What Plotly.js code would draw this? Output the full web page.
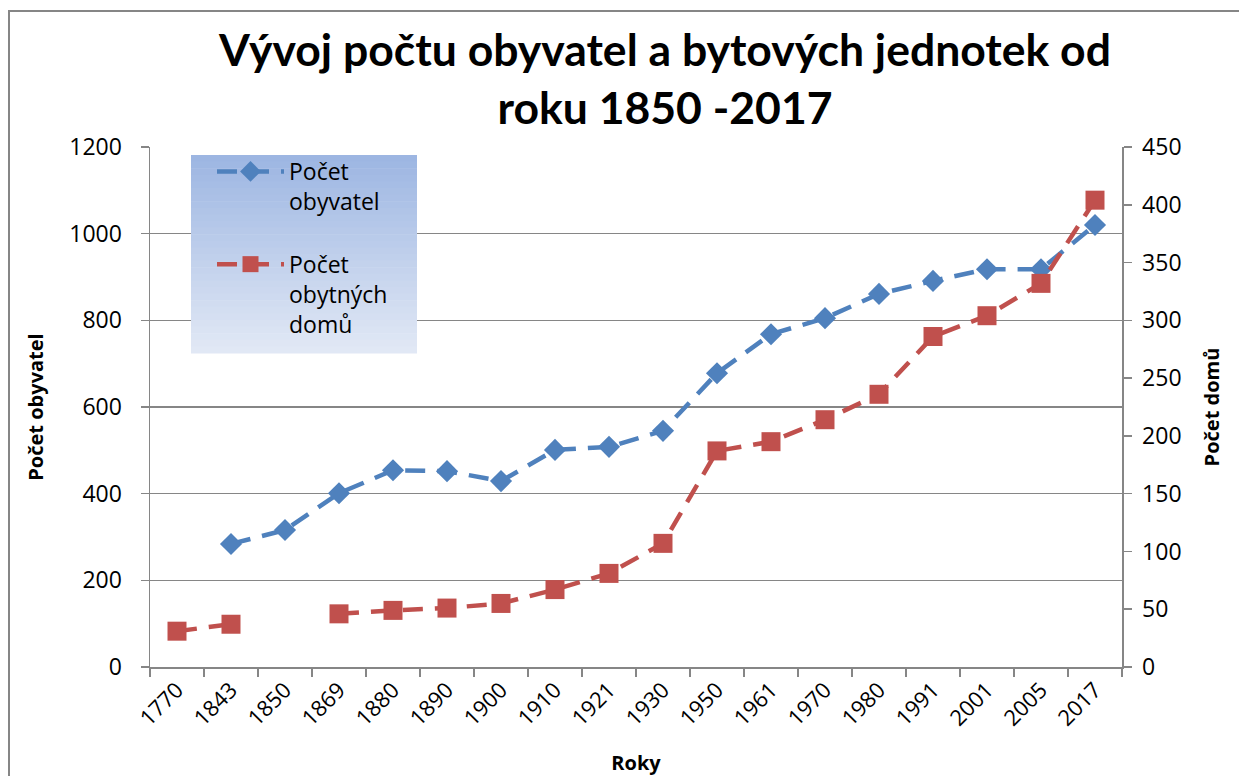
<!DOCTYPE html>
<html>
<head>
<meta charset="utf-8">
<script src="https://cdn.plot.ly/plotly-3.0.1.min.js"></script>
<style>html,body{margin:0;padding:0;background:#fff;}#chart{width:1239px;height:776px;}</style>
</head>
<body>
<div id="chart"></div>
<script>
const years = ["1770","1843","1850","1869","1880","1890","1900","1910","1921","1930","1950","1961","1970","1980","1991","2001","2005","2017"];
const obyvatel = [null,284,316,401,454,452,429,501,508,545,678,768,805,861,891,918,918,1020];
const domu = [31,37,null,46,49,51,55,67,81,107,187,195,214,236,286,304,332,404];

const blue = "#4F81BD", red = "#C0504D", grey = "#868686";
const fontFam = "Open Sans, Lato, sans-serif";

// legend gradient strips (plot area 150..1122 x, 147..667 y)
const shapes = [];
const L = {x0:191, x1:417, y0:155, y1:353};
const px = v => (v-150)/972, py = v => (667-v)/520;
const N = 30;
for (let i=0;i<N;i++){
  const t = i/(N-1);
  const c0=[157,182,226], c1=[225,232,245];
  const c = c0.map((a,k)=>Math.round(a+(c1[k]-a)*t));
  shapes.push({type:"rect", xref:"paper", yref:"paper", layer:"above",
    x0:px(L.x0), x1:px(L.x1),
    y1:py(L.y0+(L.y1-L.y0)*i/N), y0:py(L.y0+(L.y1-L.y0)*(i+1)/N)-0.001,
    line:{width:0}, fillcolor:`rgb(${c[0]},${c[1]},${c[2]})`});
}
// outer chart border
shapes.push({type:"rect", xref:"paper", yref:"paper", layer:"below",
  x0:px(9), x1:px(1260), y0:py(800), y1:py(11), line:{color:grey,width:2}, fillcolor:"rgba(0,0,0,0)"});

const traces = [
  {x: years, y: obyvatel, name:"Počet<br>obyvatel<br> ", type:"scatter", mode:"lines+markers",
   line:{color:blue, width:4.5, dash:"20px,12px"}, marker:{symbol:"diamond", size:17, color:blue},
   connectgaps:false},
  {x: years, y: domu, name:"Počet<br>obytných<br>domů", type:"scatter", mode:"lines+markers", yaxis:"y2",
   line:{color:red, width:4.5, dash:"20px,12px"}, marker:{symbol:"square", size:19, color:red},
   connectgaps:false}
];

const layout = {
  width:1239, height:776,
  margin:{l:150, r:117, t:147, b:109},
  paper_bgcolor:"#fff", plot_bgcolor:"rgba(0,0,0,0)",
  font:{family:fontFam, color:"#000"},
  title:{text:"<b>Vývoj počtu obyvatel a bytových jednotek od<br>roku 1850 -2017</b>",
    font:{family:"Lato, Open Sans, sans-serif", size:44.5, color:"#000"},
    x:665/1239, xanchor:"center", xref:"container", y:1-66/776, yanchor:"top", yref:"container"},
  xaxis:{type:"category", range:[-0.5,17.5], tickangle:-45, tickson:"boundaries",
    ticks:"outside", ticklen:8, tickcolor:grey, tickwidth:1.5,
    showline:true, linecolor:grey, linewidth:1.5, showgrid:false, zeroline:false,
    tickfont:{size:22, family:fontFam},
    title:{text:"<b>Roky</b>", font:{size:20, family:fontFam}, standoff:26}},
  yaxis:{range:[0,1200], dtick:200, ticks:"outside", ticklen:8, tickcolor:grey, tickwidth:1.5,
    showline:true, linecolor:grey, linewidth:1.5, showgrid:true, gridcolor:grey, gridwidth:1.5,
    zeroline:false, tickfont:{size:23, family:fontFam}, ticklabelstandoff:14,
    title:{text:"<b>Počet obyvatel</b>", font:{size:20, family:fontFam}, standoff:20}},
  yaxis2:{range:[0,450], dtick:50, overlaying:"y", side:"right", ticks:"outside", ticklen:8,
    tickcolor:grey, tickwidth:1.5, showline:true, linecolor:grey, linewidth:1.5, showgrid:false,
    zeroline:false, tickfont:{size:23, family:fontFam}, ticklabelstandoff:6,
    title:{text:"<b>Počet domů</b>", font:{size:20, family:fontFam}, standoff:24}},
  legend:{x:px(212), y:py(150), xanchor:"left", yanchor:"top", bgcolor:"rgba(0,0,0,0)",
    borderwidth:0, valign:"top", itemwidth:67, font:{size:23, family:fontFam}, tracegroupgap:0},
  shapes: shapes,
  showlegend:true
};

Plotly.newPlot("chart", traces, layout, {displayModeBar:false, staticPlot:true});
</script>
</body>
</html>
